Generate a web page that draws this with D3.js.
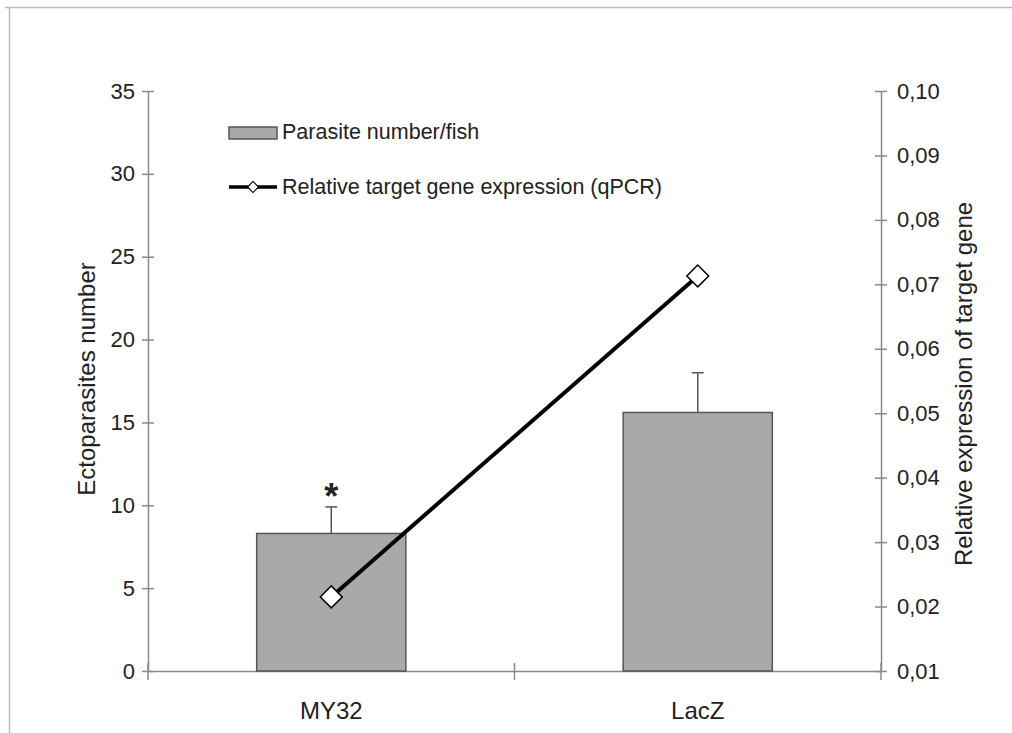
<!DOCTYPE html>
<html>
<head>
<meta charset="utf-8">
<script src="https://cdn.jsdelivr.net/npm/d3@7"></script>
<style>
  body { margin: 0; background: #fff; }
  svg text { font-family: "Liberation Sans", Arial, sans-serif; fill: #222; }
</style>
</head>
<body>
<div class="canvas"></div>
<script>
// Data
var categories = ['MY32', 'LacZ'],
    parasiteNumber = [8.3, 15.6],
    parasiteError = [1.6, 2.4],
    geneExpression = [0.0215, 0.0713],
    leftTicks = [0, 5, 10, 15, 20, 25, 30, 35],
    rightTicks = [0.01, 0.02, 0.03, 0.04, 0.05, 0.06, 0.07, 0.08, 0.09, 0.10];

// Config
var width = 1012,
    height = 733,
    plotLeft = 148,
    plotRight = 881,
    plotTop = 91,
    plotBottom = 671,
    barColor = '#a9a9a9',
    barStroke = '#555',
    axisColor = '#8a8a8a',
    commaFormat = function (d) { return d3.format('.2f')(d).replace('.', ','); };

var svg = d3.select('.canvas').append('svg')
            .attr('width', width)
            .attr('height', height);

// frame lines of the original picture
svg.append('line').attr('x1', 5).attr('x2', width).attr('y1', 7.5).attr('y2', 7.5)
   .attr('stroke', '#bbb').attr('stroke-width', 1.5);
svg.append('line').attr('x1', 9.5).attr('x2', 9.5).attr('y1', 7).attr('y2', height)
   .attr('stroke', '#bbb').attr('stroke-width', 1.5);

var x = d3.scaleBand()
          .domain(categories)
          .range([plotLeft, plotRight])
          .paddingInner(0.593)
          .paddingOuter(0.2965);

var yLeft = d3.scaleLinear().domain([0, 35]).range([plotBottom, plotTop]);
var yRight = d3.scaleLinear().domain([0.01, 0.10]).range([plotBottom, plotTop]);

// Left axis
var leftAxis = svg.append('g')
    .attr('transform', 'translate(' + plotLeft + ',0)')
    .call(d3.axisLeft(yLeft).tickValues(leftTicks).tickSizeInner(6).tickSizeOuter(0).tickPadding(7));

// Right axis
var rightAxis = svg.append('g')
    .attr('transform', 'translate(' + plotRight + ',0)')
    .call(d3.axisRight(yRight).tickValues(rightTicks).tickFormat(commaFormat)
          .tickSizeInner(6).tickSizeOuter(0).tickPadding(10));

// Bottom axis
var bottomAxis = svg.append('g')
    .attr('transform', 'translate(0,' + plotBottom + ')')
    .call(d3.axisBottom(x).tickSize(0).tickPadding(31));

[leftAxis, rightAxis].forEach(function (g) {
    g.selectAll('.tick line').attr('x1', -6).attr('x2', 6);
});
[leftAxis, rightAxis, bottomAxis].forEach(function (g) {
    g.select('.domain').attr('stroke', axisColor).attr('stroke-width', 1.5);
    g.selectAll('.tick line').attr('stroke', axisColor).attr('stroke-width', 1.5);
    g.selectAll('.tick text').style('font-size', '22px').attr('fill', '#222');
});
bottomAxis.selectAll('.tick text').style('font-size', '24px');

// category separators on the x axis
svg.selectAll('.sep')
   .data(d3.range(categories.length + 1))
   .enter()
   .append('line')
   .attr('x1', function (d) { return plotLeft + d * x.step(); })
   .attr('x2', function (d) { return plotLeft + d * x.step(); })
   .attr('y1', plotBottom - 8)
   .attr('y2', plotBottom + 9)
   .attr('stroke', axisColor)
   .attr('stroke-width', 1.5);

// Bars
svg.selectAll('.bar')
   .data(parasiteNumber)
   .enter()
   .append('rect')
   .attr('x', function (d, i) { return x(categories[i]); })
   .attr('y', function (d) { return yLeft(d); })
   .attr('width', x.bandwidth())
   .attr('height', function (d) { return yLeft(0) - yLeft(d); })
   .attr('fill', barColor)
   .attr('stroke', barStroke)
   .attr('stroke-width', 1.5);

// Error bars (upper only)
parasiteNumber.forEach(function (d, i) {
    var cx = x(categories[i]) + x.bandwidth() / 2;
    svg.append('line')
       .attr('x1', cx).attr('x2', cx)
       .attr('y1', yLeft(d)).attr('y2', yLeft(d + parasiteError[i]))
       .attr('stroke', barStroke).attr('stroke-width', 1.5);
    svg.append('line')
       .attr('x1', cx - 6).attr('x2', cx + 6)
       .attr('y1', yLeft(d + parasiteError[i])).attr('y2', yLeft(d + parasiteError[i]))
       .attr('stroke', barStroke).attr('stroke-width', 1.5);
});

// significance star above MY32
svg.append('text')
   .attr('x', x(categories[0]) + x.bandwidth() / 2)
   .attr('y', yLeft(parasiteNumber[0] + parasiteError[0]) + 2)
   .attr('text-anchor', 'middle')
   .style('font-size', '36px')
   .style('font-weight', 'bold')
   .text('*');

// Expression line
var line = d3.line()
    .x(function (d, i) { return x(categories[i]) + x.bandwidth() / 2; })
    .y(function (d) { return yRight(d); });

svg.append('path')
   .datum(geneExpression)
   .attr('d', line)
   .attr('fill', 'none')
   .attr('stroke', '#000')
   .attr('stroke-width', 4);

var diamond = d3.symbol().type(d3.symbolSquare).size(240);

svg.selectAll('.marker')
   .data(geneExpression)
   .enter()
   .append('path')
   .attr('d', diamond)
   .attr('transform', function (d, i) {
       return 'translate(' + (x(categories[i]) + x.bandwidth() / 2) + ',' + yRight(d) + ') rotate(45)';
   })
   .attr('fill', '#fff')
   .attr('stroke', '#000')
   .attr('stroke-width', 1.5);

// Legend
svg.append('rect')
   .attr('x', 229).attr('y', 127).attr('width', 48).attr('height', 12)
   .attr('fill', barColor).attr('stroke', barStroke).attr('stroke-width', 1.5);
svg.append('text')
   .attr('x', 282).attr('y', 139)
   .style('font-size', '21.5px')
   .text('Parasite number/fish');

svg.append('line')
   .attr('x1', 229).attr('x2', 277).attr('y1', 187).attr('y2', 187)
   .attr('stroke', '#000').attr('stroke-width', 3.5);
svg.append('path')
   .attr('d', d3.symbol().type(d3.symbolSquare).size(60))
   .attr('transform', 'translate(253,187) rotate(45)')
   .attr('fill', '#fff').attr('stroke', '#000').attr('stroke-width', 1.2);
svg.append('text')
   .attr('x', 282).attr('y', 194)
   .style('font-size', '21.5px')
   .text('Relative target gene expression (qPCR)');

// Axis titles
svg.append('text')
   .attr('transform', 'translate(95,' + ((plotTop + plotBottom) / 2 - 2) + ') rotate(-90)')
   .attr('text-anchor', 'middle')
   .style('font-size', '24px')
   .text('Ectoparasites number');

svg.append('text')
   .attr('transform', 'translate(972,' + ((plotTop + plotBottom) / 2 + 3) + ') rotate(-90)')
   .attr('text-anchor', 'middle')
   .style('font-size', '24px')
   .text('Relative expression of target gene');
</script>
</body>
</html>
